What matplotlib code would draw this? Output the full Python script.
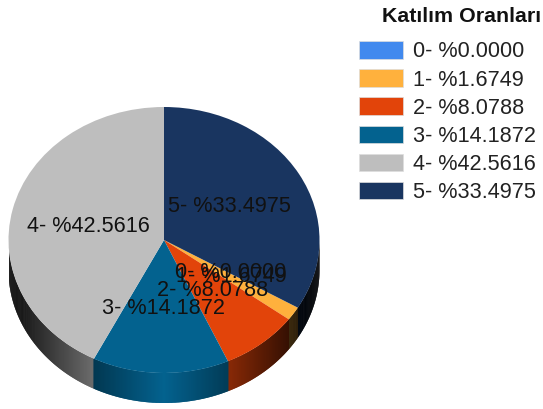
import numpy as np
import matplotlib
matplotlib.use("Agg")
import matplotlib.pyplot as plt
from matplotlib.patches import Patch
from matplotlib.collections import PolyCollection
from matplotlib.colors import to_rgb

plt.rcParams['font.family'] = ['Liberation Sans', 'DejaVu Sans']

categories = ["0", "1", "2", "3", "4", "5"]
values = [0.0000, 1.6749, 8.0788, 14.1872, 42.5616, 33.4975]
colors = ["#4189EE", "#FFB13D", "#E2440A", "#03628F", "#BEBEBE", "#193560"]
labels = [f"{c}- %{v:.4f}" for c, v in zip(categories, values)]
label_pos = [(231, 273), (231, 276), (213, 291), (163, 308), (88, 226), (229, 206)]
title = "Katılım Oranları"

W, H = 543, 409
fig = plt.figure(figsize=(W / 100, H / 100), dpi=100)
cx, cy, rx, ry, depth = 164, 240, 155.5, 133, 30
ax = fig.add_axes([(cx - rx) / W, 0, 2 * rx / W, 1])

wedges, _ = ax.pie(values, colors=colors, startangle=90 - values[-1] * 3.6,
                   counterclock=False, radius=1,
                   wedgeprops=dict(linewidth=0))
for w in wedges:
    w.set_zorder(3)
ax.set_aspect('auto')
ax.set_xlim(-1, 1)
ax.set_ylim(-(H - cy) / ry, cy / ry)
ax.axis('off')

# extruded side of the pie, shaded from the front towards the edges
d = depth / ry
step = 0.5
polys, cols = [], []
for t in np.arange(180, 360, step):
    mid = t + step / 2
    col = None
    for w, c in zip(wedges, colors):
        a, b = w.theta1 % 360, w.theta2 % 360
        if w.theta2 - w.theta1 <= 0:
            continue
        inside = (a <= mid < b) if a < b else (mid >= a or mid < b)
        if inside:
            col = c
    if col is None:
        continue
    t0, t1 = np.radians(t), np.radians(min(t + 2 * step, 360))
    x0, y0, x1, y1 = np.cos(t0), np.sin(t0), np.cos(t1), np.sin(t1)
    polys.append([(x0, y0), (x1, y1), (x1, y1 - d), (x0, y0 - d)])
    xm = abs(np.cos(np.radians(mid)))
    shade = max(1 - 0.95 * xm, 0.06)
    cols.append(tuple(np.array(to_rgb(col)) * shade))
ax.add_collection(PolyCollection(polys, facecolors=cols, edgecolors='none',
                                 linewidths=0, zorder=2))

for txt, (px, py) in zip(labels, label_pos):
    fig.text(px / W, 1 - py / H, txt, ha='center', va='center',
             fontsize=15.6, color='#111111', zorder=5)

fig.text(541 / W, 1 - 16 / H, title, ha='right', va='center',
         fontsize=15.4, fontweight='bold', color='#111111')

handles = [Patch(facecolor=c, edgecolor='#dddddd', linewidth=0.5) for c in colors]
leg = fig.legend(handles, labels, loc='upper left',
                 bbox_to_anchor=(342 / W, 1 - 24 / H), frameon=False,
                 fontsize=15.6, handlelength=2.0, handleheight=0.85,
                 handletextpad=0.5, labelspacing=0.32, borderpad=0.3,
                 labelcolor='#222222')

fig.savefig("out.png", dpi=100)
